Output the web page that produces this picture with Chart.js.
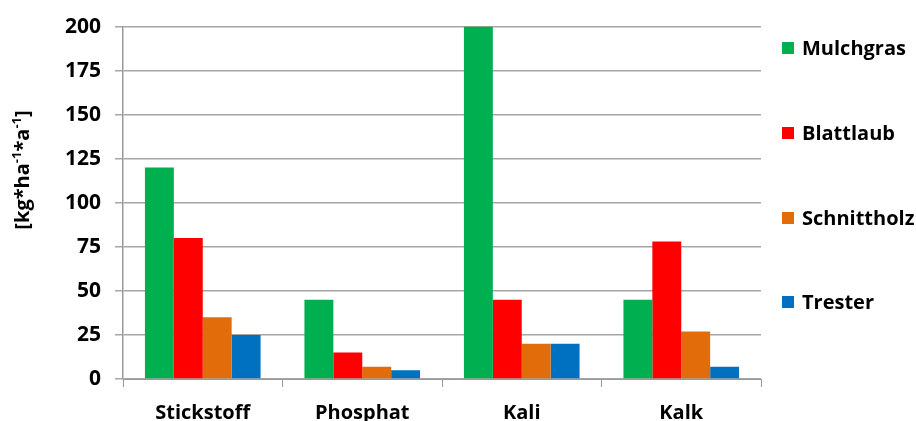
<!DOCTYPE html>
<html>
<head>
<meta charset="utf-8">
<script src="https://cdn.jsdelivr.net/npm/chart.js@4"></script>
<style>
html,body{margin:0;padding:0;background:#fff;}
#wrap{width:916px;height:421px;position:relative;}
</style>
</head>
<body>
<div id="wrap"><canvas id="c" width="916" height="421"></canvas></div>
<script>
const categories = ["Stickstoff", "Phosphat", "Kali", "Kalk"];
const seriesNames = ["Mulchgras", "Blattlaub", "Schnittholz", "Trester"];
const mulchgras = [120, 45, 200, 45];
const blattlaub = [80, 15, 45, 78];
const schnittholz = [35, 7, 20, 27];
const trester = [25, 5, 20, 7];
const colors = ["#00B050", "#FF0000", "#E36C0A", "#0070C0"];
const yMin = 0, yMax = 200, yStep = 25;
const yTitleParts = [["[kg*ha", false], ["-1", true], ["*a", false], ["-1", true], ["]", false]];

const FONT = "'Open Sans', sans-serif";

const customDraw = {
  id: 'customDraw',
  afterDraw(chart) {
    const ctx = chart.ctx;
    ctx.save();
    // legend
    const items = chart.data.datasets;
    const ys = [48, 133, 218, 302];
    items.forEach((ds, i) => {
      const y = ys[i];
      ctx.fillStyle = ds.backgroundColor;
      ctx.fillRect(782, y - 6, 12, 12);
      ctx.fillStyle = '#000';
      ctx.font = "bold 20px " + FONT;
      ctx.textBaseline = 'middle';
      ctx.textAlign = 'left';
      ctx.fillText(ds.label, 802, y + 1);
    });
    // y title
    ctx.translate(22, 170);
    ctx.rotate(-Math.PI / 2);
    const big = "bold 20px " + FONT, small = "bold 13px " + FONT;
    let total = 0;
    yTitleParts.forEach(p => { ctx.font = p[1] ? small : big; total += ctx.measureText(p[0]).width; });
    let x = -total / 2;
    ctx.textBaseline = 'middle';
    ctx.textAlign = 'left';
    yTitleParts.forEach(p => {
      ctx.font = p[1] ? small : big;
      ctx.fillText(p[0], x, p[1] ? -5 : 1);
      x += ctx.measureText(p[0]).width;
    });
    ctx.restore();
  }
};

new Chart(document.getElementById('c'), {
  type: 'bar',
  data: {
    labels: categories,
    datasets: [mulchgras, blattlaub, schnittholz, trester].map((d, i) => ({
      label: seriesNames[i],
      data: d,
      backgroundColor: colors[i],
      borderWidth: 0,
      categoryPercentage: 0.725,
      barPercentage: 1.0
    }))
  },
  options: {
    responsive: false,
    animation: false,
    devicePixelRatio: 1,
    layout: { padding: { top: 23, right: 155, bottom: 0, left: 0 } },
    plugins: { legend: { display: false }, tooltip: { enabled: false } },
    scales: {
      x: {
        afterFit(s) { s.height = 42; },
        grid: { drawOnChartArea: false, drawTicks: true, tickLength: 8, color: '#999', offset: true },
        border: { color: '#999', width: 1 },
        ticks: { color: '#000', font: { family: FONT, size: 20, weight: 'bold' }, padding: 14, maxRotation: 0 }
      },
      y: {
        min: yMin, max: yMax,
        afterFit(s) { s.width = 123; },
        grid: { color: '#a6a6a6', lineWidth: 1.5, tickLength: 8, drawTicks: true },
        border: { color: '#999', width: 1.5 },
        ticks: { stepSize: yStep, color: '#000', font: { family: FONT, size: 21, weight: 'bold' }, padding: 14 }
      }
    }
  },
  plugins: [customDraw]
});
</script>
</body>
</html>
